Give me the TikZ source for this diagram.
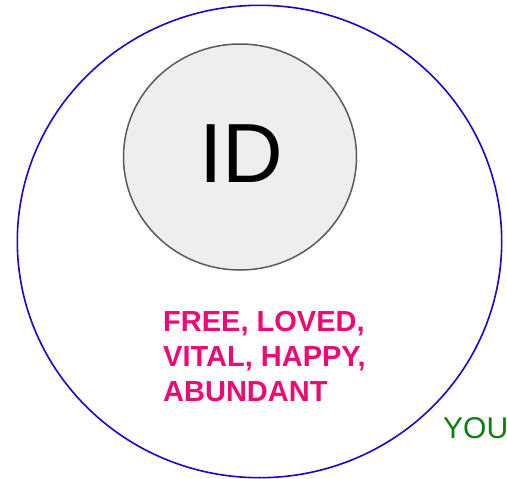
\documentclass[tikz,border=0pt]{standalone}
\usepackage{fontspec}
\setmainfont{Liberation Sans}
\usetikzlibrary{positioning}

\definecolor{ringblue}{RGB}{34,0,204}
\definecolor{idgray}{RGB}{238,238,238}
\definecolor{idedge}{RGB}{90,90,90}
\definecolor{wordpink}{RGB}{236,10,116}
\definecolor{yougreen}{RGB}{16,125,16}

\begin{document}
\begin{tikzpicture}[x=1pt,y=-1pt]
  \useasboundingbox (0,0) rectangle (507,479);
  % Outer ring (you)
  \draw[ringblue,line width=1.6pt] (259.5,241.5) ellipse [x radius=242.2, y radius=236.2];
  % Inner circle (ID)
  \draw[idedge,fill=idgray,line width=1.5pt] (240,157) ellipse [x radius=116.5, y radius=113];
  \node[inner sep=0,font=\fontsize{84}{84}\selectfont] (id) at (241.5,154) {ID};
  % Qualities
  \node[anchor=north west,inner sep=0,align=left,text=wordpink,
        font=\bfseries\fontsize{29}{35}\selectfont] (words) at (163,311) {FREE, LOVED,\\VITAL, HAPPY,\\ABUNDANT};
  % Label
  \node[anchor=base west,inner sep=0,text=yougreen,font=\fontsize{30}{30}\selectfont] (you) at (443,438) {YOU};
\end{tikzpicture}
\end{document}
